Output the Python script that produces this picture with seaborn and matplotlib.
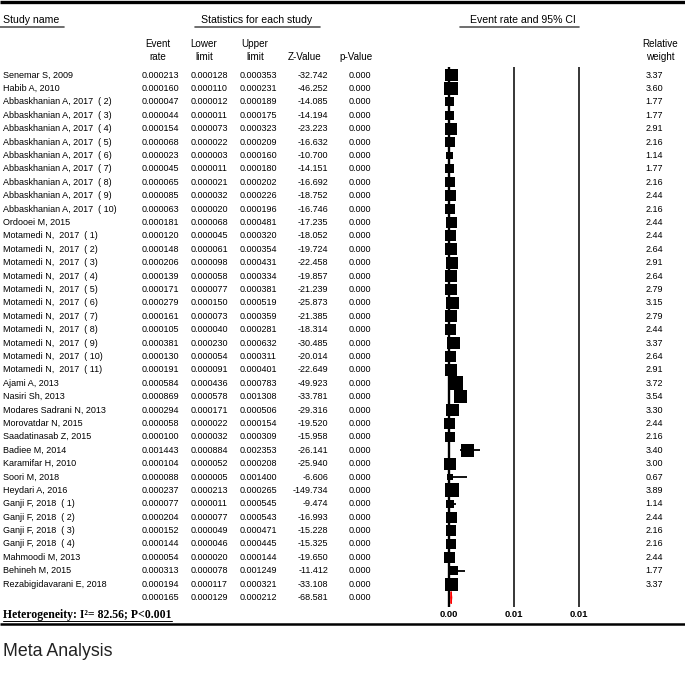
import matplotlib
matplotlib.use("Agg")
import matplotlib.pyplot as plt
import matplotlib.transforms as mtransforms
import seaborn as sns
import pandas as pd
import numpy as np

# ---------------- data ----------------
studies = [
    "Senemar S, 2009", "Habib A, 2010",
    "Abbaskhanian A, 2017  ( 2)", "Abbaskhanian A, 2017  ( 3)", "Abbaskhanian A, 2017  ( 4)",
    "Abbaskhanian A, 2017  ( 5)", "Abbaskhanian A, 2017  ( 6)", "Abbaskhanian A, 2017  ( 7)",
    "Abbaskhanian A, 2017  ( 8)", "Abbaskhanian A, 2017  ( 9)", "Abbaskhanian A, 2017  ( 10)",
    "Ordooei M, 2015",
    "Motamedi N,  2017  ( 1)", "Motamedi N,  2017  ( 2)", "Motamedi N,  2017  ( 3)",
    "Motamedi N,  2017  ( 4)", "Motamedi N,  2017  ( 5)", "Motamedi N,  2017  ( 6)",
    "Motamedi N,  2017  ( 7)", "Motamedi N,  2017  ( 8)", "Motamedi N,  2017  ( 9)",
    "Motamedi N,  2017  ( 10)", "Motamedi N,  2017  ( 11)",
    "Ajami A, 2013", "Nasiri Sh, 2013", "Modares Sadrani N, 2013", "Morovatdar N, 2015",
    "Saadatinasab Z, 2015", "Badiee M, 2014", "Karamifar H, 2010", "Soori M, 2018",
    "Heydari A, 2016", "Ganji F, 2018  ( 1)", "Ganji F, 2018  ( 2)", "Ganji F, 2018  ( 3)",
    "Ganji F, 2018  ( 4)", "Mahmoodi M, 2013", "Behineh M, 2015", "Rezabigidavarani E, 2018",
]
event_rate = [0.000213, 0.000160, 0.000047, 0.000044, 0.000154, 0.000068, 0.000023, 0.000045,
              0.000065, 0.000085, 0.000063, 0.000181, 0.000120, 0.000148, 0.000206, 0.000139,
              0.000171, 0.000279, 0.000161, 0.000105, 0.000381, 0.000130, 0.000191, 0.000584,
              0.000869, 0.000294, 0.000058, 0.000100, 0.001443, 0.000104, 0.000088, 0.000237,
              0.000077, 0.000204, 0.000152, 0.000144, 0.000054, 0.000313, 0.000194]
lower_limit = [0.000128, 0.000110, 0.000012, 0.000011, 0.000073, 0.000022, 0.000003, 0.000011,
               0.000021, 0.000032, 0.000020, 0.000068, 0.000045, 0.000061, 0.000098, 0.000058,
               0.000077, 0.000150, 0.000073, 0.000040, 0.000230, 0.000054, 0.000091, 0.000436,
               0.000578, 0.000171, 0.000022, 0.000032, 0.000884, 0.000052, 0.000005, 0.000213,
               0.000011, 0.000077, 0.000049, 0.000046, 0.000020, 0.000078, 0.000117]
upper_limit = [0.000353, 0.000231, 0.000189, 0.000175, 0.000323, 0.000209, 0.000160, 0.000180,
               0.000202, 0.000226, 0.000196, 0.000481, 0.000320, 0.000354, 0.000431, 0.000334,
               0.000381, 0.000519, 0.000359, 0.000281, 0.000632, 0.000311, 0.000401, 0.000783,
               0.001308, 0.000506, 0.000154, 0.000309, 0.002353, 0.000208, 0.001400, 0.000265,
               0.000545, 0.000543, 0.000471, 0.000445, 0.000144, 0.001249, 0.000321]
z_value = [-32.742, -46.252, -14.085, -14.194, -23.223, -16.632, -10.700, -14.151, -16.692,
           -18.752, -16.746, -17.235, -18.052, -19.724, -22.458, -19.857, -21.239, -25.873,
           -21.385, -18.314, -30.485, -20.014, -22.649, -49.923, -33.781, -29.316, -19.520,
           -15.958, -26.141, -25.940, -6.606, -149.734, -9.474, -16.993, -15.228, -15.325,
           -19.650, -11.412, -33.108]
p_value = [0.000] * 39
relative_weight = [3.37, 3.60, 1.77, 1.77, 2.91, 2.16, 1.14, 1.77, 2.16, 2.44, 2.16, 2.44,
                   2.44, 2.64, 2.91, 2.64, 2.79, 3.15, 2.79, 2.44, 3.37, 2.64, 2.91, 3.72,
                   3.54, 3.30, 2.44, 2.16, 3.40, 3.00, 0.67, 3.89, 1.14, 2.44, 2.16, 2.16,
                   2.44, 1.77, 3.37]
summary_rate = 0.000165
summary_lower = 0.000129
summary_upper = 0.000212
summary_z = -68.581
summary_p = 0.000
tick_values = [0.0, 0.005, 0.01]
tick_labels = ["0.00", "0.01", "0.01"]
heterogeneity = "Heterogeneity: I²= 82.56; P<0.001"
caption = "Meta Analysis"

# ---------------- figure ----------------
sns.set_theme(style="white")
plt.rcParams["font.family"] = ["Liberation Sans", "DejaVu Sans"]

W, H = 685, 682
fig = plt.figure(figsize=(W / 100, H / 100), dpi=100)
fig.patch.set_facecolor("white")

bg = fig.add_axes([0, 0, 1, 1])
bg.set_xlim(0, W)
bg.set_ylim(H, 0)
bg.axis("off")

ROW0, DY = 75, 13.4           # pixel y of first row, row spacing
TOP, BOT = 67, 607            # forest axes vertical extent (px)
XL, XR, X0, PXU = 430, 600, 449, 13000.0   # forest x extent, zero pos, px per unit

fax = fig.add_axes([XL / W, 1 - BOT / H, (XR - XL) / W, (BOT - TOP) / H])
fax.patch.set_alpha(0)

n = len(studies)
df = pd.DataFrame({"row": np.arange(n), "rate": event_rate, "lo": lower_limit,
                   "hi": upper_limit, "w": relative_weight})

fax.axvline(tick_values[0], color="black", lw=1.7, zorder=1)
for tv in tick_values[1:]:
    fax.axvline(tv, color="black", lw=1.1, zorder=1)
fax.hlines(df["row"], df["lo"], df["hi"], color="black", lw=1.3, zorder=2)
sns.scatterplot(data=df, x="rate", y="row", size="w", sizes=(0, 100),
                size_norm=(0, max(relative_weight)), marker="s", color="black",
                linewidth=0, legend=False, ax=fax, zorder=3)
# summary diamond
sr = n
fax.fill([summary_lower, summary_rate, summary_upper, summary_rate],
         [sr, sr - 0.45, sr, sr + 0.45], facecolor="red", edgecolor="red", lw=0.8, zorder=3)

fax.set_xlim((XL - X0) / PXU, (XR - X0) / PXU)
fax.set_ylim((BOT - ROW0) / DY, (TOP - ROW0) / DY)
fax.set_xticks(tick_values)
fax.set_xticklabels(tick_labels, fontweight="bold", fontsize=6.8, color="black")
fax.set_yticks([])
fax.tick_params(axis="x", length=0, pad=2.5)
fax.set_xlabel("")
fax.set_ylabel("")
for s in fax.spines.values():
    s.set_visible(False)

trans = mtransforms.blended_transform_factory(bg.transData, fax.transData)
FS = 6.5
TC = "black"

# table rows
for i in range(n):
    bg.text(3, i, studies[i], transform=trans, fontsize=FS, color=TC, va="center", ha="left")
    bg.text(179, i, f"{event_rate[i]:.6f}", transform=trans, fontsize=FS, color=TC, va="center", ha="right")
    bg.text(228, i, f"{lower_limit[i]:.6f}", transform=trans, fontsize=FS, color=TC, va="center", ha="right")
    bg.text(277, i, f"{upper_limit[i]:.6f}", transform=trans, fontsize=FS, color=TC, va="center", ha="right")
    bg.text(328, i, f"{z_value[i]:.3f}", transform=trans, fontsize=FS, color=TC, va="center", ha="right")
    bg.text(371, i, f"{p_value[i]:.3f}", transform=trans, fontsize=FS, color=TC, va="center", ha="right")
    bg.text(663, i, f"{relative_weight[i]:.2f}", transform=trans, fontsize=FS, color=TC, va="center", ha="right")
# summary row
bg.text(179, sr, f"{summary_rate:.6f}", transform=trans, fontsize=FS, color=TC, va="center", ha="right")
bg.text(228, sr, f"{summary_lower:.6f}", transform=trans, fontsize=FS, color=TC, va="center", ha="right")
bg.text(277, sr, f"{summary_upper:.6f}", transform=trans, fontsize=FS, color=TC, va="center", ha="right")
bg.text(328, sr, f"{summary_z:.3f}", transform=trans, fontsize=FS, color=TC, va="center", ha="right")
bg.text(371, sr, f"{summary_p:.3f}", transform=trans, fontsize=FS, color=TC, va="center", ha="right")

# headers
HY1, HY2, TY, UY = 44, 57, 20, 27
HFS, CFS = 7.6, 7.1
bg.text(3, TY, "Study name", fontsize=HFS, color=TC, va="center", ha="left")
bg.plot([0, 64], [UY, UY], color="#555555", lw=1.2)
bg.text(257, TY, "Statistics for each study", fontsize=HFS, color=TC, va="center", ha="center")
bg.plot([195, 320], [UY, UY], color="#555555", lw=1.2)
bg.text(523, TY, "Event rate and 95% CI", fontsize=HFS, color=TC, va="center", ha="center")
bg.plot([460, 579], [UY, UY], color="#555555", lw=1.2)
for cx, l1, l2 in [(158, "Event", "rate"), (204, "Lower", "limit"), (255, "Upper", "limit"),
                   (305, None, "Z-Value"), (356, None, "p-Value"), (660, "Relative", "weight")]:
    if l1:
        bg.text(cx, HY1, l1, fontsize=CFS, color=TC, va="center", ha="center")
    bg.text(cx, HY2, l2, fontsize=CFS, color=TC, va="center", ha="center")

# top rule
bg.plot([0, W], [2, 2], color="black", lw=2.4, solid_capstyle="butt")

# heterogeneity and bottom rule
HET_Y = 615
bg.text(3, HET_Y, heterogeneity, fontsize=8.5, fontweight="bold", family="Liberation Serif",
        color=TC, va="center", ha="left")
bg.plot([3, 172], [HET_Y + 5.5, HET_Y + 5.5], color=TC, lw=0.7)
bg.plot([0, W], [624, 624], color="black", lw=1.8, solid_capstyle="butt")

bg.text(3, 651, caption, fontsize=12.8, color="#222222", va="center", ha="left")

fig.savefig("out.png", dpi=100, facecolor="white")
